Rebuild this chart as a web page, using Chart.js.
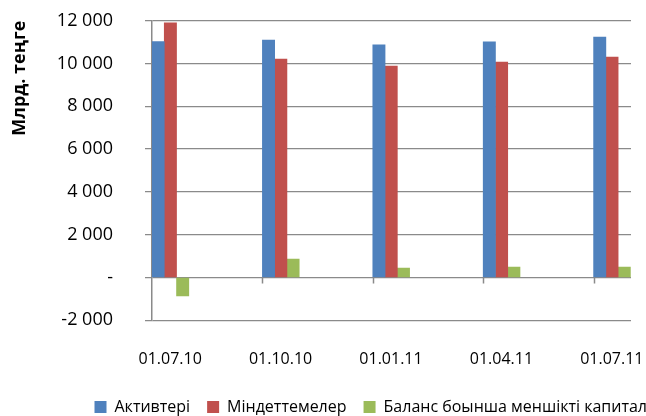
<!DOCTYPE html>
<html>
<head>
<meta charset="utf-8">
<script src="https://cdn.jsdelivr.net/npm/chart.js@4"></script>
<style>
  html, body { margin: 0; padding: 0; overflow: hidden; background: #fff; }
  #wrap { width: 742px; height: 425px; position: relative; }
</style>
</head>
<body>
<div id="wrap"><canvas id="c"></canvas></div>
<script>
const categories = ['01.07.10', '01.10.10', '01.01.11', '01.04.11', '01.07.11'];
const assets = [11020, 11100, 10870, 11010, 11240];
const liabilities = [11900, 10210, 9880, 10070, 10300];
const equity = [-860, 860, 440, 490, 490];
const seriesNames = ['Активтері', 'Міндеттемелер', 'Баланс боынша меншікті капитал'];
const seriesColors = ['#4F81BD', '#C0504D', '#9BBB59'];
const yTickValues = [-2000, 0, 2000, 4000, 6000, 8000, 10000, 12000];
const yTickLabels = ['-2 000', '-', '2 000', '4 000', '6 000', '8 000', '10 000', '12 000'];
const yTitle = 'Млрд. теңге';

const FONT = "'Open Sans', 'Noto Sans', sans-serif";
const GRID = '#8a8a8a';

// empty slots so that each group of three bars sits at the left of its category
const spacers = [];
for (let k = 0; k < 6; k++) {
  spacers.push({ label: '', data: [], backgroundColor: 'rgba(0,0,0,0)', spacer: true });
}

const plotClip = {
  id: 'plotClip',
  beforeDraw(chart) {
    const ctx = chart.ctx;
    ctx.save();
    ctx.beginPath();
    ctx.rect(0, 0, 631, 335);
    ctx.rect(0, 335, chart.width, chart.height - 335);
    ctx.clip();
  },
  afterDraw(chart) {
    chart.ctx.restore();
  }
};

const zeroTicks = {
  id: 'zeroTicks',
  afterDatasetsDraw(chart) {
    const x = chart.scales.x, y = chart.scales.y;
    const ctx = chart.ctx;
    const half = (x.getPixelForValue(1) - x.getPixelForValue(0)) / 2;
    const y0 = y.getPixelForValue(0);
    ctx.save();
    ctx.strokeStyle = GRID;
    ctx.lineWidth = 1.5;
    for (let i = 1; i < categories.length; i++) {
      const px = Math.round(x.getPixelForValue(i) - half) + 0.5;
      ctx.beginPath();
      ctx.moveTo(px, y0);
      ctx.lineTo(px, y0 + 6);
      ctx.stroke();
    }
    ctx.restore();
  }
};

new Chart(document.getElementById('c'), {
  type: 'bar',
  data: {
    labels: categories,
    datasets: [
      { label: seriesNames[0], data: assets, backgroundColor: seriesColors[0] },
      { label: seriesNames[1], data: liabilities, backgroundColor: seriesColors[1] },
      { label: seriesNames[2], data: equity, backgroundColor: seriesColors[2] },
      ...spacers
    ]
  },
  options: {
    responsive: true,
    maintainAspectRatio: false,
    animation: false,
    devicePixelRatio: 1,
    categoryPercentage: 1,
    barPercentage: 1,
    layout: { padding: { top: 20.7, right: 38, left: 37.5, bottom: 0 } },
    plugins: {
      tooltip: { enabled: false },
      legend: {
        position: 'bottom',
        labels: {
          font: { family: FONT, size: 16 },
          color: '#000',
          boxWidth: 12,
          boxHeight: 12,
          padding: 17,
          filter: (item, data) => !data.datasets[item.datasetIndex].spacer
        }
      }
    },
    scales: {
      x: {
        grid: { display: false, drawTicks: false },
        border: { display: false },
        ticks: {
          font: { family: FONT, size: 16 },
          color: '#000',
          padding: 30,
          labelOffset: -37,
          maxRotation: 0
        },
        afterFit: (s) => { s.height = 61.7; }
      },
      y: {
        min: -2000,
        max: 12000,
        afterBuildTicks: (s) => { s.ticks = yTickValues.map(v => ({ value: v })); },
        afterFit: (s) => { s.width = 114.5; s.paddingTop = 0; s.paddingBottom = 0; },
        grid: { color: GRID, lineWidth: 1.3, tickLength: 7, drawTicks: true },
        border: { color: GRID, width: 1.5 },
        ticks: {
          font: { family: FONT, size: 18 },
          color: '#000',
          padding: 32,
          callback: (v) => { const i = yTickValues.indexOf(v); return i >= 0 ? yTickLabels[i] : ''; }
        },
        title: {
          display: true,
          text: yTitle,
          align: 'end',
          color: '#000',
          font: { family: FONT, size: 18, weight: 'bold' },
          padding: { top: -28, bottom: 0 }
        }
      }
    }
  },
  plugins: [plotClip, zeroTicks]
});
</script>
</body>
</html>
